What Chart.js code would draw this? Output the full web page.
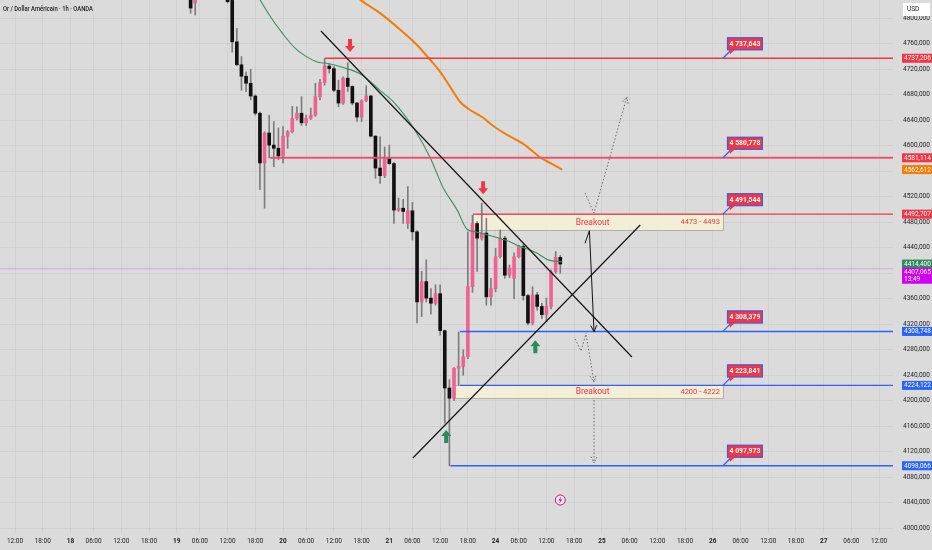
<!DOCTYPE html>
<html><head><meta charset="utf-8">
<script src="https://cdn.jsdelivr.net/npm/chart.js@4.4.1/dist/chart.umd.min.js"></script>
<style>html,body{margin:0;padding:0;background:#dbdbdb;overflow:hidden}#wrap{width:932px;height:550px}</style>
</head><body><div id="wrap"><canvas id="c" width="932" height="550"></canvas></div>
<script>
// ---------- DATA ----------
const title = 'Or / Dollar Américain · 1h · OANDA';
const firstIndex = 38; // bar index of first candle (hourly bars)
const opens  = [4838,4824,4842,4855,4850,4845,4852,4844,4836,4828,4763,4727,4709,4698,4678,4651,4573,4620,4601,4596,4584,4615,4622,4643,4651,4636,4643,4648,4677,4699,4725,4721,4687,4667,4706,4693,4667,4645,4671,4678,4615,4565,4553,4580,4572,4499,4502,4478,4498,4465,4355,4387,4361,4353,4368,4310,4220,4204,4251,4254,4269,4379,4478,4455,4463,4363,4376,4426,4455,4397,4392,4426,4442,4365,4322,4366,4348,4335,4348,4402,4425];
const highs  = [4850,4850,4862,4870,4866,4858,4862,4855,4842,4830,4784,4740,4716,4720,4680,4653,4622,4648,4638,4628,4630,4624,4662,4661,4677,4648,4659,4698,4704,4737,4729,4724,4703,4708,4730,4694,4668,4672,4694,4679,4616,4614,4598,4601,4574,4518,4516,4536,4511,4467,4403,4421,4376,4382,4382,4311,4233,4252,4308,4280,4465,4491,4481,4510,4486,4392,4439,4468,4458,4413,4432,4444,4445,4367,4379,4370,4353,4361,4405,4434,4428];
const lows   = [4808,4805,4835,4845,4838,4834,4840,4831,4824,4747,4726,4687,4685,4672,4648,4531,4502,4581,4567,4578,4573,4596,4620,4640,4632,4632,4641,4646,4672,4695,4714,4685,4661,4665,4685,4664,4638,4638,4669,4614,4549,4541,4550,4571,4478,4497,4478,4470,4452,4322,4332,4355,4336,4350,4303,4165,4098,4200,4224,4240,4266,4370,4403,4452,4350,4350,4371,4424,4392,4393,4360,4424,4358,4319,4319,4342,4329,4324,4344,4400,4400];
const closes = [4816,4842,4855,4850,4845,4852,4844,4836,4826,4763,4727,4709,4698,4678,4651,4573,4620,4601,4596,4584,4615,4622,4643,4651,4636,4643,4648,4677,4699,4725,4721,4687,4667,4706,4693,4667,4645,4671,4678,4615,4565,4553,4580,4572,4499,4502,4497,4498,4465,4355,4387,4361,4353,4368,4310,4220,4204,4251,4254,4269,4379,4478,4455,4463,4363,4376,4426,4455,4397,4408,4426,4442,4365,4322,4366,4348,4335,4348,4402,4425,4414.4];

const greenMaX = [52.5,55.5,57.8,60.6,62.8,65.6,67.7,71.4,75.1,78.8,82,86.3,89.8,92.6,95.7,97.8,99.6,102.4,106.1,109.7,112.6,115.4,118.4];
const greenMaY = [4835,4800,4777,4753,4741,4731,4729,4722,4711,4688,4668,4627,4582,4535,4499,4469,4465,4460,4452,4441,4433,4421,4418];
const orangeMaX = [73.6,74.7,79,84,87,89.8,92,94.2,96.3,98.1,101.1,103.5,106.5,110,113.6,115.8,118.4];
const orangeMaY = [4836,4829,4808,4778,4758,4735,4716,4692,4669,4658,4645,4631,4617,4603,4582,4573,4562.6];

const timeLabels = ['12:00','18:00','18','06:00','12:00','18:00','19','06:00','12:00','18:00','20','06:00','12:00','18:00','21','06:00','12:00','18:00','24','06:00','12:00','18:00','25','06:00','12:00','18:00','26','06:00','12:00','18:00','27','06:00','12:00'];
const timeTickIndex = [0,6,12,17,23,29,35,40,46,52,58,63,69,75,81,86,92,98,104,109,115,121,127,133,139,145,151,157,163,169,175,181,187];
const priceTicks = [4000,4040,4080,4120,4160,4200,4240,4280,4320,4360,4400,4440,4480,4520,4560,4600,4640,4680,4720,4760,4800];

const levelValues = [4737.206,4581.114,4492.707,4308.748,4224.122,4098.066];
const levelStart  = [67.1,55.2,99.1,96.3,96.3,94.2];
const levelSide   = ['sell','sell','sell','buy','buy','buy'];
const calloutValues = [4737.643,4580.778,4491.544,4308.379,4223.841,4097.973];
const calloutIndex = 153.2;

const boxFrom = [99.1,94.7], boxTo = [153.2,153.2];
const boxLow = [4468,4204], boxHigh = [4493,4224];
const boxTitle = ['Breakout','Breakout'];
const boxRange = ['4473 - 4493','4200 - 4222'];
const boxTitleIndex = 125;

const trendDownX = [66.2,133.5], trendDownY = [4780,4268.7];
const trendUpX = [86.1,135.3], trendUpY = [4110.3,4475.7];

const pathUpX = [123.35,125.3,132.4], pathUpY = [4525.9,4494.5,4676.5];
const pathSolidX = [123.35,124.3,125.3], pathSolidY = [4447,4466.8,4308.4];
const pathRetestX = [121.2,122.5,123.6], pathRetestY = [4296.9,4278.1,4306.3];
const pathDownAX = [123.6,125.3], pathDownAY = [4303,4229.5];
const pathDownBX = [125.3,125.3], pathDownBY = [4201.2,4102.4];

const signalX = [72.5,101.3,93.3,112.6];
const signalY = [4747,4524,4154,4295];
const signalDir = ['down','down','up','up'];

const bidValue = 4407.065, bidCountdown = '13:49';
const axisLabelValues = [4737.206,4581.114,4562.612,4492.707,4414.400,4407.065,4308.748,4224.122,4098.066];
const axisLabelKind = ['sell','sell','ma','sell','last','bid','buy','buy','buy'];
const currency = 'USD';

// ---------- STYLE ----------
const BG='#dbdbdb', GRID='rgba(0,0,0,0.045)', PINK='#f0628f', BLACK='#111111', WICK='#7d7d7d';
const RED='#f23645', BLUE='#2962ff', ORANGE='#f57c00', GREENMA='#3b8f5f', LASTG='#2f8a5d', MAG='#d000f0';
const FONT='Roboto, "Liberation Sans", sans-serif';
const kindColor = {sell:RED,buy:BLUE,ma:ORANGE,last:LASTG,bid:MAG};
const fmt = v => v.toFixed(3).replace('.',',');
const fmtSp = v => { const s = fmt(v); return s.slice(0,1)+' '+s.slice(1); };

const idx = opens.map((_,i)=>firstIndex+i);
const pts = (xs,ys)=>xs.map((x,i)=>({x,y:ys[i]}));
const X_MIN=-3.25, X_MAX=190;

const lineDs = (data,color,width,extra)=>Object.assign({type:'line',data,borderColor:color,borderWidth:width,pointRadius:0,fill:false,tension:0},extra||{});

const datasets = [
  lineDs([{x:X_MIN,y:bidValue},{x:X_MAX,y:bidValue}],'rgba(214,120,240,0.55)',1,{order:30}),
  {type:'bar',data:idx.map((x,i)=>({x,y:[lows[i],highs[i]]})),backgroundColor:WICK,barThickness:1,grouped:false,order:21},
  {type:'bar',data:idx.map((x,i)=>({x,y:[opens[i],closes[i]]})),backgroundColor:idx.map((_,i)=>closes[i]>=opens[i]?PINK:BLACK),barThickness:3,minBarLength:1,grouped:false,order:20},
  lineDs(pts(greenMaX,greenMaY),GREENMA,1.1,{cubicInterpolationMode:'monotone',order:10}),
  lineDs(pts(orangeMaX,orangeMaY),ORANGE,2,{cubicInterpolationMode:'monotone',order:10}),
];
levelValues.forEach((v,i)=>datasets.push(lineDs([{x:levelStart[i],y:v},{x:X_MAX,y:v}],levelSide[i]==='sell'?(i===1?'#ee5068':RED):BLUE,i===1?2:1.4,{order:8})));
datasets.push(lineDs(pts(trendDownX,trendDownY),'#151515',1.2,{order:5}));
datasets.push(lineDs(pts(trendUpX,trendUpY),'#151515',1.2,{order:5}));
function pathDs(xs,ys,solid,arrow){ const d=lineDs(pts(xs,ys),solid?'#151515':'#6a6a6a',1,{order:4,borderDash:solid?[]:[1.5,2]}); d.arrowEnd=arrow; d.solidPath=solid; datasets.push(d); }
pathDs(pathUpX,pathUpY,false,true);
pathDs(pathSolidX,pathSolidY,true,true);
pathDs(pathRetestX,pathRetestY,false,false);
pathDs(pathDownAX,pathDownAY,false,true);
pathDs(pathDownBX,pathDownBY,false,true);

// ---------- PLUGINS ----------
const bgPlugin = {id:'bg',beforeDraw(ch){const c=ch.ctx;c.save();c.fillStyle=BG;c.fillRect(0,0,ch.width,ch.height);c.restore();}};

const boxPlugin = {id:'boxes',beforeDatasetsDraw(ch){
  const c=ch.ctx,xs=ch.scales.x,ys=ch.scales.y;c.save();
  boxFrom.forEach((f,i)=>{
    const x1=xs.getPixelForValue(f),x2=xs.getPixelForValue(boxTo[i]);
    const y1=ys.getPixelForValue(boxHigh[i]),y2=ys.getPixelForValue(boxLow[i]);
    c.fillStyle='rgba(244,240,214,0.9)';c.fillRect(x1,y1,x2-x1,y2-y1);
    c.strokeStyle='#b4b1a2';c.lineWidth=1;c.strokeRect(Math.round(x1)+0.5,Math.round(y1)+0.5,Math.round(x2-x1),Math.round(y2-y1));
    const ym=(y1+y2)/2+0.5;
    c.fillStyle=RED;c.textBaseline='middle';
    c.font='8.5px '+FONT;c.textAlign='center';c.fillText(boxTitle[i],xs.getPixelForValue(boxTitleIndex),ym);
    c.font='7.5px '+FONT;c.textAlign='right';c.fillText(boxRange[i],x2-3,ym);
  });
  c.restore();
}};

function chevron(c,x,y,ang,len){
  c.beginPath();
  c.moveTo(x+len*Math.cos(ang+Math.PI-0.45),y+len*Math.sin(ang+Math.PI-0.45));
  c.lineTo(x,y);
  c.lineTo(x+len*Math.cos(ang+Math.PI+0.45),y+len*Math.sin(ang+Math.PI+0.45));
  c.stroke();
}
function blockArrow(c,x,tip,down,color){
  const s=down?1:-1;c.fillStyle=color;c.beginPath();
  c.moveTo(x,tip);c.lineTo(x-5,tip-s*6);c.lineTo(x-2,tip-s*6);c.lineTo(x-2,tip-s*13);
  c.lineTo(x+2,tip-s*13);c.lineTo(x+2,tip-s*6);c.lineTo(x+5,tip-s*6);c.closePath();c.fill();
}
const markPlugin = {id:'marks',afterDatasetsDraw(ch){
  const c=ch.ctx,xs=ch.scales.x,ys=ch.scales.y,a=ch.chartArea;c.save();
  ch.data.datasets.forEach((d,i)=>{
    if(!d.arrowEnd) return;
    const m=ch.getDatasetMeta(i).data,p=m[m.length-1],q=m[m.length-2];
    const ang=Math.atan2(p.y-q.y,p.x-q.x);
    c.strokeStyle=d.solidPath?'#151515':'#6a6a6a';c.lineWidth=1;c.setLineDash(d.solidPath?[]:[1.5,1.5]);
    chevron(c,p.x,p.y,ang,7);
  });
  c.setLineDash([]);
  signalX.forEach((sx,i)=>blockArrow(c,xs.getPixelForValue(sx),ys.getPixelForValue(signalY[i]),signalDir[i]==='down',signalDir[i]==='down'?RED:'#2a8a5c'));
  calloutValues.forEach((v,i)=>{
    const lx=xs.getPixelForValue(calloutIndex),ly=ys.getPixelForValue(levelValues[i]);
    c.strokeStyle=BLUE;c.lineWidth=1.2;c.beginPath();c.moveTo(lx,ly);c.lineTo(lx+8,ly-8);c.stroke();
    c.fillStyle=RED;c.fillRect(lx+4,ly-21,36,13);
    c.strokeStyle=BLUE;c.lineWidth=1;c.strokeRect(lx+4.5,ly-20.5,35,12);
    c.fillStyle=RED;c.beginPath();c.moveTo(lx+6,ly-8.5);c.lineTo(lx+12,ly-8.5);c.lineTo(lx+7,ly-4);c.closePath();c.fill();
    c.fillStyle='#fff';c.font='bold 6.8px '+FONT;c.textAlign='center';c.textBaseline='middle';
    c.fillText(fmtSp(v),lx+22,ly-14.2);
  });
  const ex=xs.getPixelForValue(firstIndex+opens.length-1),ey=a.bottom-33;
  c.strokeStyle='#c2188b';c.lineWidth=1;c.fillStyle='#f3e4ee';
  c.beginPath();c.arc(ex,ey,5,0,Math.PI*2);c.fill();c.stroke();
  c.fillStyle='#c2188b';c.beginPath();c.moveTo(ex+1,ey-3.5);c.lineTo(ex-2,ey+0.5);c.lineTo(ex,ey+0.5);c.lineTo(ex-1,ey+3.5);c.lineTo(ex+2,ey-0.5);c.lineTo(ex,ey-0.5);c.closePath();c.fill();
  c.restore();
}};

const axisPlugin = {id:'axisLabels',afterDraw(ch){
  const c=ch.ctx,ys=ch.scales.y,a=ch.chartArea;c.save();
  const lx=a.right+9,w=30;
  c.font='6.5px '+FONT;c.textAlign='left';c.textBaseline='middle';
  axisLabelValues.forEach((v,i)=>{
    const y=ys.getPixelForValue(v),k=axisLabelKind[i];
    c.fillStyle=kindColor[k];
    if(k==='bid'){
      c.fillRect(lx,y-1,w,16);c.fillStyle='#fff';c.fillText(fmt(v),lx+2,y+3.5);c.fillText(bidCountdown,lx+2,y+11);
    } else {
      c.fillRect(lx,y-4.5,w,9);c.fillStyle='#fff';c.fillText(fmt(v),lx+2,y+0.3);
    }
  });
  c.fillStyle='#ffffff';c.fillRect(lx+1,3,27,13);c.fillStyle='#222';c.font='6.5px '+FONT;c.fillText(currency,lx+5,9.8);
  c.fillStyle='#1a1a1a';c.font='500 7.5px '+FONT;
  c.save();c.translate(3,9);c.scale(0.78,1);c.fillText(title,0,0);c.restore();
  c.restore();
}};

const dayLabel = i => /^\d\d$/.test(timeLabels[i]);

new Chart(document.getElementById('c'),{
  type:'bar',
  data:{datasets},
  options:{
    responsive:false,animation:false,devicePixelRatio:1,
    layout:{padding:0},
    plugins:{legend:{display:false},tooltip:{enabled:false}},
    scales:{
      x:{type:'linear',min:X_MIN,max:X_MAX,offset:false,
        grid:{color:GRID,drawTicks:false,offset:false},border:{display:false},
        afterBuildTicks:s=>{s.ticks=timeTickIndex.map(v=>({value:v}));},
        afterFit:s=>{s.height=17;s.paddingLeft=0;s.paddingRight=0;},
        ticks:{autoSkip:false,maxRotation:0,padding:4,color:'#222',
          font:ctx=>({family:FONT,size:6.5,weight:dayLabel(ctx.index)?'bold':'normal'}),
          callback:(v,i)=>timeLabels[i]}},
      y:{type:'linear',position:'right',min:3992.6,max:4828.6,
        grid:{color:GRID,drawTicks:false},border:{display:false},
        afterBuildTicks:s=>{s.ticks=priceTicks.map(v=>({value:v}));},
        afterFit:s=>{s.width=39;s.paddingTop=0;s.paddingBottom=0;},
        ticks:{padding:10,color:'#222',font:{family:FONT,size:6.5},callback:v=>fmt(v)}}
    }
  },
  plugins:[bgPlugin,boxPlugin,markPlugin,axisPlugin]
});
</script></body></html>
